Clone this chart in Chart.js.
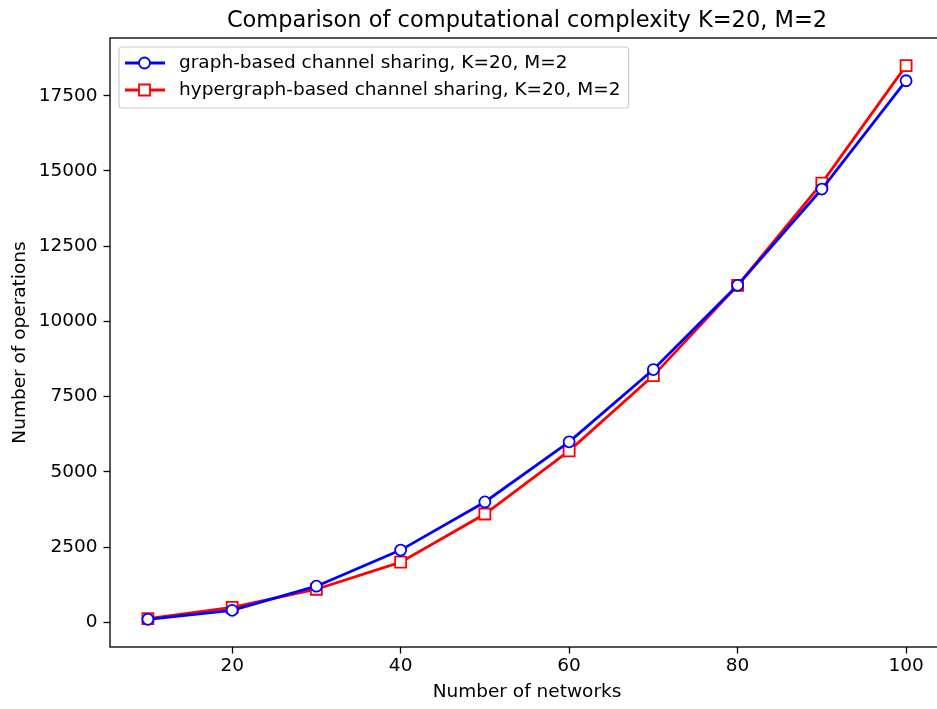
<!DOCTYPE html>
<html>
<head>
<meta charset="utf-8">
<script src="https://cdn.jsdelivr.net/npm/chart.js@4.4.1/dist/chart.umd.min.js"></script>
<style>
  html, body { margin: 0; padding: 0; background: #fff; overflow: hidden; }
  #wrap { width: 960px; height: 709px; }
</style>
</head>
<body>
<div id="wrap"><canvas id="c" width="960" height="709"></canvas></div>
<script>
// Number of networks on the x axis
const networks = [10, 20, 30, 40, 50, 60, 70, 80, 90, 100];
// Operation counts for each scheme
const graphOps = [100, 400, 1200, 2400, 4000, 6000, 8400, 11200, 14400, 18000];
const hypergraphOps = [120, 500, 1100, 2000, 3600, 5700, 8200, 11200, 14600, 18500];
// Tick labels
const xTicks = [20, 40, 60, 80, 100];
const yTicks = [0, 2500, 5000, 7500, 10000, 12500, 15000, 17500];

const seriesNames = [
  'graph-based channel sharing, K=20, M=2',
  'hypergraph-based channel sharing, K=20, M=2'
];
const titleText = 'Comparison of computational complexity K=20, M=2';

const FONT = 'DejaVu Sans';
const TICK_PX = 18.5;
const TITLE_PX = 22.5;

// 5% autoscale margins on both axes
const xMinD = Math.min(...networks), xMaxD = Math.max(...networks);
const xPad = (xMaxD - xMinD) * 0.05;
const allY = graphOps.concat(hypergraphOps);
const yMinD = Math.min(...allY), yMaxD = Math.max(...allY);
const yPad = (yMaxD - yMinD) * 0.05;

const toPts = arr => arr.map((v, i) => ({ x: networks[i], y: v }));

function drawMarker(ctx, d, x, y) {
  ctx.fillStyle = '#fff';
  ctx.strokeStyle = d.pointBorderColor;
  ctx.lineWidth = d.pointBorderWidth;
  ctx.beginPath();
  if (d.pointStyle === 'circle') {
    ctx.arc(x, y, d.pointRadius, 0, Math.PI * 2);
  } else {
    const s = d.pointRadius * Math.SQRT1_2;
    ctx.rect(x - s, y - s, 2 * s, 2 * s);
  }
  ctx.fill();
  ctx.stroke();
}

// Frame, title and legend drawn on top of the chart area
const framePlugin = {
  id: 'frame',
  afterDatasetsDraw(chart) {
    const { ctx, chartArea: a } = chart;
    ctx.save();
    ctx.strokeStyle = '#000';
    ctx.lineWidth = 1.33;
    ctx.strokeRect(a.left, a.top, a.right - a.left, a.bottom - a.top);

    // title centred over the axes
    ctx.fillStyle = '#000';
    ctx.font = TITLE_PX + 'px "' + FONT + '"';
    ctx.textAlign = 'center';
    ctx.textBaseline = 'alphabetic';
    ctx.fillText(titleText, (a.left + a.right) / 2, a.top - 11);

    // legend
    const bx = a.left + 9, by = a.top + 9;
    ctx.font = TICK_PX + 'px "' + FONT + '"';
    const tw = Math.max(...seriesNames.map(s => ctx.measureText(s).width));
    const bw = 60 + tw + 8, bh = 61;
    ctx.beginPath();
    ctx.roundRect(bx, by, bw, bh, 3);
    ctx.fillStyle = 'rgba(255,255,255,0.8)';
    ctx.fill();
    ctx.strokeStyle = '#cccccc';
    ctx.lineWidth = 1.2;
    ctx.stroke();

    const ds = chart.data.datasets;
    const rows = [by + 16, by + 43];
    ds.forEach((d, i) => {
      const yy = rows[i];
      ctx.strokeStyle = d.borderColor;
      ctx.lineWidth = d.borderWidth;
      ctx.beginPath();
      ctx.moveTo(bx + 6, yy);
      ctx.lineTo(bx + 46, yy);
      ctx.stroke();
      drawMarker(ctx, d, bx + 25.5, yy);
      ctx.fillStyle = '#000';
      ctx.textAlign = 'left';
      ctx.textBaseline = 'middle';
      ctx.fillText(seriesNames[i], bx + 60, yy);
    });
    ctx.restore();
  }
};

new Chart(document.getElementById('c'), {
  type: 'line',
  data: {
    datasets: [
      {
        label: seriesNames[0],
        data: toPts(graphOps),
        borderColor: '#0000ff',
        borderWidth: 2.8,
        pointStyle: 'circle',
        pointRadius: 5.5,
        pointBorderWidth: 1.8,
        pointBackgroundColor: '#ffffff',
        pointBorderColor: '#0000ff',
        tension: 0
      },
      {
        label: seriesNames[1],
        data: toPts(hypergraphOps),
        borderColor: '#ff0000',
        borderWidth: 2.8,
        pointStyle: 'rect',
        pointRadius: 7.78,
        pointBorderWidth: 1.8,
        pointBackgroundColor: '#ffffff',
        pointBorderColor: '#ff0000',
        tension: 0
      }
    ]
  },
  options: {
    responsive: false,
    animation: false,
    layout: { padding: { top: 38, right: 16, left: 0, bottom: 0 } },
    plugins: {
      legend: { display: false },
      title: { display: false },
      tooltip: { enabled: false }
    },
    scales: {
      x: {
        type: 'linear',
        min: xMinD - xPad,
        max: xMaxD + xPad,
        afterBuildTicks: s => { s.ticks = xTicks.map(v => ({ value: v })); },
        afterFit: s => { s.height = 62; },
        grid: { display: true, drawOnChartArea: false, tickLength: 6.5, color: '#000', tickWidth: 1.3 },
        border: { display: false },
        ticks: { color: '#000', font: { family: FONT, size: TICK_PX }, padding: 2, maxRotation: 0 },
        title: {
          display: true, text: 'Number of networks', color: '#000',
          font: { family: FONT, size: TICK_PX }, padding: { top: 0, bottom: 6 }
        }
      },
      y: {
        type: 'linear',
        min: yMinD - yPad,
        max: yMaxD + yPad,
        afterBuildTicks: s => { s.ticks = yTicks.map(v => ({ value: v })); },
        afterFit: s => { s.width = 110; },
        grid: { display: true, drawOnChartArea: false, tickLength: 6.5, color: '#000', tickWidth: 1.3 },
        border: { display: false },
        ticks: { color: '#000', font: { family: FONT, size: TICK_PX }, padding: 6,
                 callback: v => String(v) },
        title: {
          display: true, text: 'Number of operations', color: '#000',
          font: { family: FONT, size: TICK_PX }, padding: { top: 9, bottom: 0 }
        }
      }
    }
  },
  plugins: [framePlugin]
});
</script>
</body>
</html>
